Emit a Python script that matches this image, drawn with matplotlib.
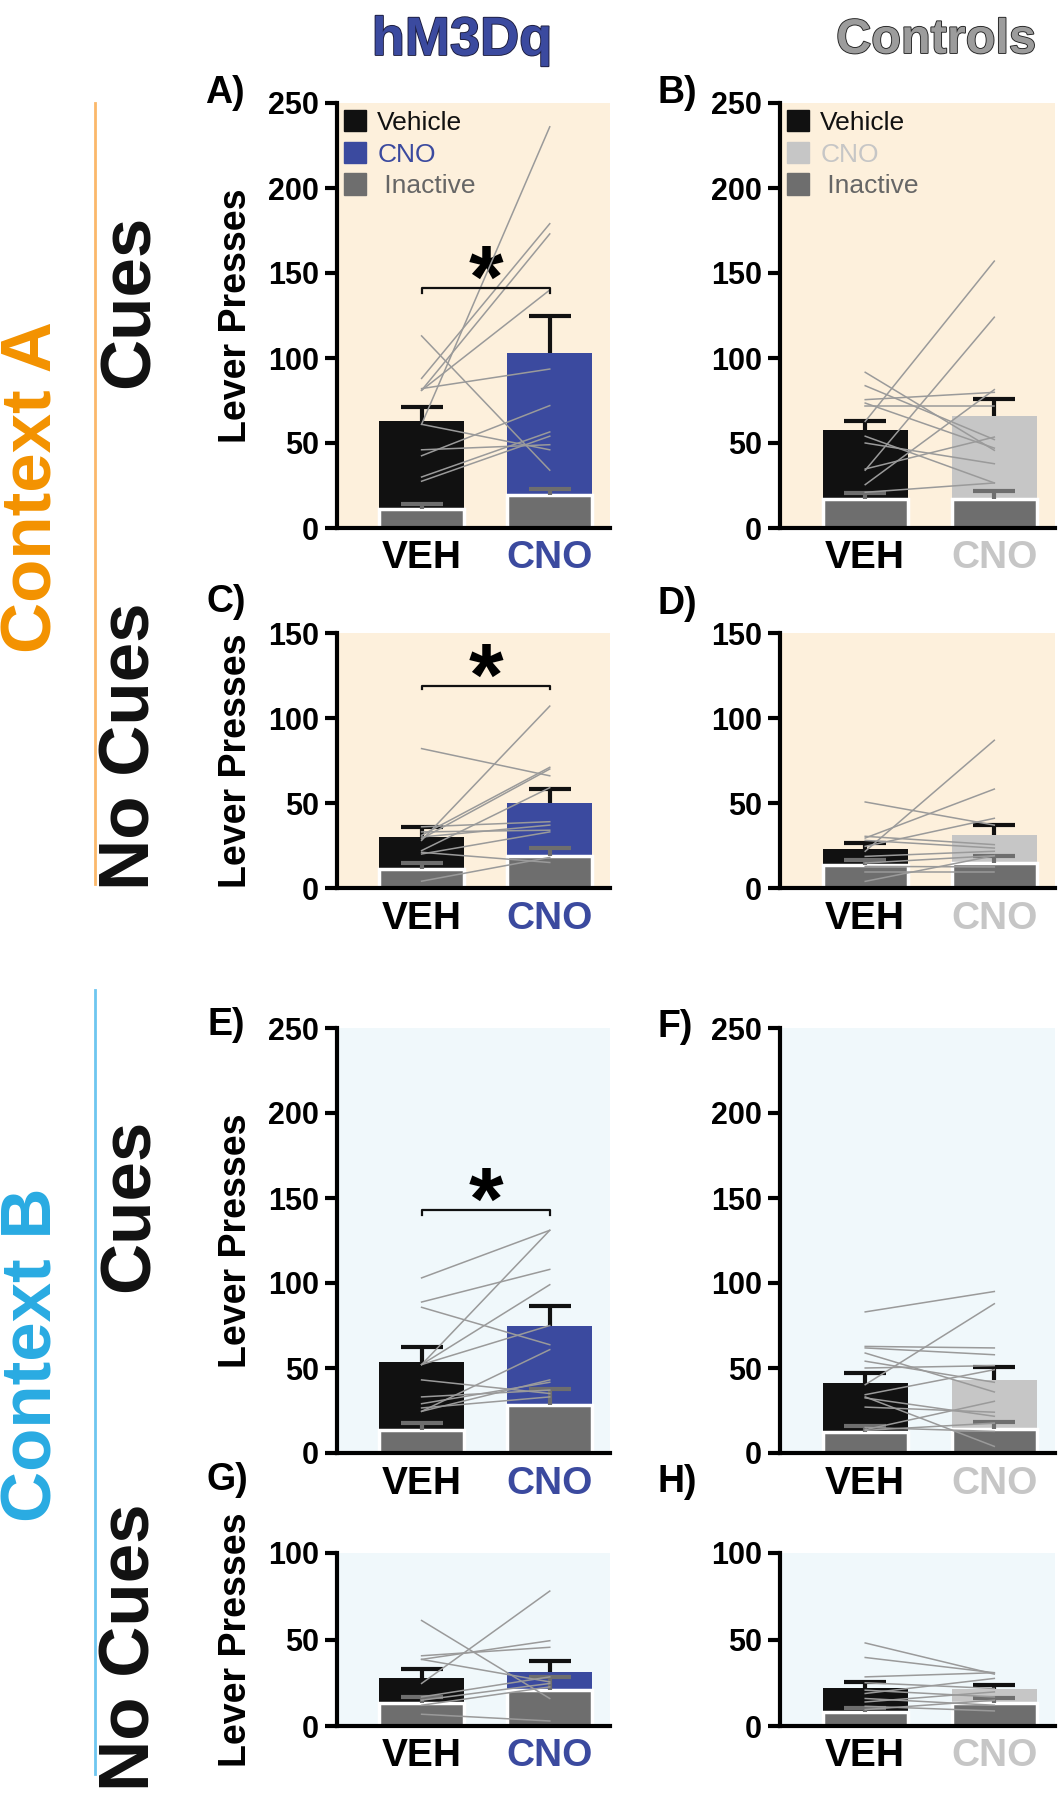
import matplotlib.pyplot as plt
import matplotlib.patheffects as pe
from matplotlib.patches import Patch

plt.rcParams['font.family'] = ['Liberation Sans', 'DejaVu Sans']

# ---- data ----
groups = ["VEH", "CNO"]

# A) context A, cues, hM3Dq
A_active = [63, 103]
A_active_sem = [8, 21.5]
A_inactive = [11, 19.6]
A_inactive_sem = [3, 3.4]
A_veh = [61, 88, 81, 81, 82, 113, 61, 46, 42.5, 30, 27.5]
A_cno = [236, 179, 173, 140, 93.5, 34, 46, 49, 72, 56.5, 54]

# B) context A, cues, controls
B_active = [57.5, 65.7]
B_active_sem = [5.5, 10.3]
B_inactive = [17, 17]
B_inactive_sem = [3.6, 5]
B_veh = [62.7, 34, 91.6, 83.7, 75.5, 73.5, 71.6, 54, 50, 34.7, 25.5, 21]
B_cno = [157, 124, 45.7, 52, 79.8, 47, 71.6, 26.5, 37.8, 53.5, 81.4, 26.5]

# C) context A, no cues, hM3Dq
C_active = [29.8, 49.8]
C_active_sem = [6, 8.2]
C_inactive = [11.2, 18.6]
C_inactive_sem = [3.8, 4.9]
C_veh = [82, 28, 31, 29, 22, 36, 30, 20, 21, 4, 33]
C_cno = [66, 107, 71, 70, 59, 39, 37, 33, 15, 18, 34]

# D) context A, no cues, controls
D_active = [23, 31.4]
D_active_sem = [3.5, 5.9]
D_inactive = [13.7, 15]
D_inactive_sem = [3, 4]
D_veh = [21.6, 29.4, 50.6, 24.5, 30.4, 28, 18.6, 14.7, 12.7, 9.2, 3.9]
D_cno = [86.9, 58.2, 37, 41, 25.5, 23.5, 21.6, 19, 12.4, 9.2, 19]

# E) context B, cues, hM3Dq
E_active = [53.5, 74.9]
E_active_sem = [8.9, 11.8]
E_inactive = [13.7, 28.4]
E_inactive_sem = [3.9, 9.4]
E_veh = [103, 88.8, 85.7, 52, 52, 52, 43, 33, 24.5, 24.5, 29, 26.5]
E_cno = [131, 108, 63.7, 131, 99, 75, 35, 37, 60.8, 43, 41.6, 33]

# F) context B, cues, controls
F_active = [41.2, 42.7]
F_active_sem = [5.8, 7.7]
F_inactive = [12.2, 14]
F_inactive_sem = [3.5, 4]
F_veh = [83, 40.2, 62.7, 61.8, 58.8, 54, 50, 34.3, 32.4, 27, 33, 13.7, 13.3, 15]
F_cno = [95, 87.8, 61.8, 57.8, 35.9, 41.6, 51.4, 49, 21.6, 24, 3.9, 30.4, 17.6, 12.7]

# G) context B, no cues, hM3Dq
G_active = [27.5, 31]
G_active_sem = [5.2, 6.5]
G_inactive = [13.3, 20.7]
G_inactive_sem = [3.5, 7.7]
G_veh = [61, 24.6, 38.5, 40.6, 38.5, 16.8, 14.9, 12, 6.8]
G_cno = [15.9, 78, 49.3, 45.5, 25.5, 28.4, 24.6, 22.6, 2.9]

# H) context B, no cues, controls
H_active = [21.7, 21.1]
H_active_sem = [3.8, 2.5]
H_inactive = [8.1, 13.3]
H_inactive_sem = [2.5, 2.9]
H_veh = [48, 39.6, 28.4, 25, 20.7, 18.8, 15.9, 13.9, 11.4, 9.5]
H_cno = [30, 30.8, 30.8, 21.7, 16.8, 27.5, 12, 19.7, 8.7, 14.9]

# significance brackets (y value of bracket)
sig_A = 141
sig_C = 118.6
sig_E = 143

# ---- colours ----
BLACK = '#111111'
BLUE = '#3b4a9f'
LIGHT = '#c6c6c6'
INACT = '#6e6e6e'
LINE = '#9a9a9a'
BG_A = '#fdf0dc'
BG_B = '#f0f8fb'

W, H = 1062, 1800
fig = plt.figure(figsize=(W / 100, H / 100), dpi=100)


def add_ax(x0, y0, x1, y1):
    return fig.add_axes([x0 / W, 1 - y1 / H, (x1 - x0) / W, (y1 - y0) / H])


def upper_err(ax, x, mean, sem, color, z):
    # SEM drawn only upwards, like the original
    tops = [m + s for m, s in zip(mean, sem)]
    ax.vlines(x, mean, tops, color=color, lw=3, zorder=z)
    ax.plot(x, tops, ls='none', marker='_', ms=30, mew=3, color=color, zorder=z)


def draw_panel(ax, active, active_sem, inactive, inactive_sem, veh, cno,
               ymax, cno_color, bg, sig=None, ylabel=True, legend=False):
    x = [0, 1]
    ax.set_facecolor(bg)
    ax.bar(x, active, width=0.66, color=[BLACK, cno_color], zorder=2)
    upper_err(ax, x, active, active_sem, BLACK, 2.5)
    ax.bar(x, inactive, width=0.66, color=INACT, edgecolor='white',
           linewidth=2.5, zorder=3)
    upper_err(ax, x, inactive, inactive_sem, INACT, 3.5)
    for v, c in zip(veh, cno):
        ax.plot(x, [v, c], color=LINE, lw=1.1, zorder=4)

    ax.set_xlim(-0.66, 1.47)
    ax.set_ylim(0, ymax)
    ax.set_yticks(range(0, ymax + 1, 50))
    ax.set_xticks(x)
    ax.set_xticklabels(groups, fontsize=28, fontweight='bold')
    ax.get_xticklabels()[1].set_color(cno_color)
    ax.tick_params(axis='x', length=0, pad=9)
    ax.tick_params(axis='y', length=9, width=3, pad=4, labelsize=22)
    for lab in ax.get_yticklabels():
        lab.set_fontweight('bold')
    for s in ['top', 'right']:
        ax.spines[s].set_visible(False)
    for s in ['left', 'bottom']:
        ax.spines[s].set_linewidth(3)
        ax.spines[s].set_zorder(5)

    if ylabel:
        ax.text(-0.37, 0.5, 'Lever Presses', transform=ax.transAxes, rotation=90,
                ha='center', va='center', fontsize=27, fontweight='bold')
    if sig is not None:
        tick = ymax * 0.012
        ax.plot([0, 0, 1, 1], [sig - tick, sig, sig, sig - tick], color=BLACK,
                lw=1.6, zorder=4)
        ax.annotate('*', xy=(0.5, sig), xytext=(0, 3), textcoords='offset points',
                    ha='center', va='center', fontsize=64, fontweight='bold')
    if legend:
        handles = [Patch(color=BLACK), Patch(color=cno_color), Patch(color=INACT)]
        leg = ax.legend(handles, ['Vehicle', 'CNO', ' Inactive'], loc='upper left',
                        frameon=False, fontsize=19, handlelength=0.83,
                        handleheight=0.9, handletextpad=0.45, labelspacing=0.26,
                        borderaxespad=0.1, borderpad=0.15)
        for t, c in zip(leg.get_texts(), [BLACK, cno_color, '#666666']):
            t.set_color(c)


cols = [(337, 610), (780, 1055)]
rows = [(103, 528, 250), (633, 888, 150), (1028, 1453, 250), (1553, 1726, 100)]

panel_data = [
    [(A_active, A_active_sem, A_inactive, A_inactive_sem, A_veh, A_cno, sig_A),
     (B_active, B_active_sem, B_inactive, B_inactive_sem, B_veh, B_cno, None)],
    [(C_active, C_active_sem, C_inactive, C_inactive_sem, C_veh, C_cno, sig_C),
     (D_active, D_active_sem, D_inactive, D_inactive_sem, D_veh, D_cno, None)],
    [(E_active, E_active_sem, E_inactive, E_inactive_sem, E_veh, E_cno, sig_E),
     (F_active, F_active_sem, F_inactive, F_inactive_sem, F_veh, F_cno, None)],
    [(G_active, G_active_sem, G_inactive, G_inactive_sem, G_veh, G_cno, None),
     (H_active, H_active_sem, H_inactive, H_inactive_sem, H_veh, H_cno, None)],
]

for r, (y0, y1, ymax) in enumerate(rows):
    bg = BG_A if r < 2 else BG_B
    for c, (x0, x1) in enumerate(cols):
        act, act_sem, ina, ina_sem, veh, cno, sig = panel_data[r][c]
        ax = add_ax(x0, y0, x1, y1)
        draw_panel(ax, act, act_sem, ina, ina_sem, veh, cno, ymax,
                   BLUE if c == 0 else LIGHT, bg, sig=sig,
                   ylabel=(c == 0), legend=(r == 0))

# panel letters
letters = [('A)', 205, 103), ('B)', 657, 103), ('C)', 207, 612), ('D)', 657, 614),
           ('E)', 207, 1035), ('F)', 657, 1037), ('G)', 207, 1490), ('H)', 657, 1492)]
for s, x, y in letters:
    fig.text(x / W, 1 - y / H, s, fontsize=27, fontweight='bold', va='baseline')

# column titles
fig.text(462 / W, 1 - 55 / H, 'hM3Dq', fontsize=39, fontweight='bold', color=BLUE,
         ha='center', va='baseline',
         path_effects=[pe.withStroke(linewidth=1.3, foreground='#1c1c3c')])
fig.text(936 / W, 1 - 53 / H, 'Controls', fontsize=35, fontweight='bold',
         color='#9c9c9c', ha='center', va='baseline',
         path_effects=[pe.withStroke(linewidth=1.3, foreground='#222222')])

# row labels
fig.text(34 / W, 1 - 487 / H, 'Context A', rotation=90, fontsize=51, fontweight='bold',
         color='#f39200', ha='center', va='center')
fig.text(34 / W, 1 - 1355 / H, 'Context B', rotation=90, fontsize=51, fontweight='bold',
         color='#29abe2', ha='center', va='center')
for s, y in [('Cues', 301), ('No Cues', 746), ('Cues', 1205), ('No Cues', 1647)]:
    fig.text(131 / W, 1 - y / H, s, rotation=90, fontsize=51, fontweight='bold',
             color=BLACK, ha='center', va='center')

fig.add_artist(plt.Line2D([95 / W, 95 / W], [1 - 103 / H, 1 - 884 / H],
                          color='#fbb86a', lw=2))
fig.add_artist(plt.Line2D([95 / W, 95 / W], [1 - 990 / H, 1 - 1774 / H],
                          color='#6ec6f0', lw=2))

fig.savefig('out.png', dpi=100)
